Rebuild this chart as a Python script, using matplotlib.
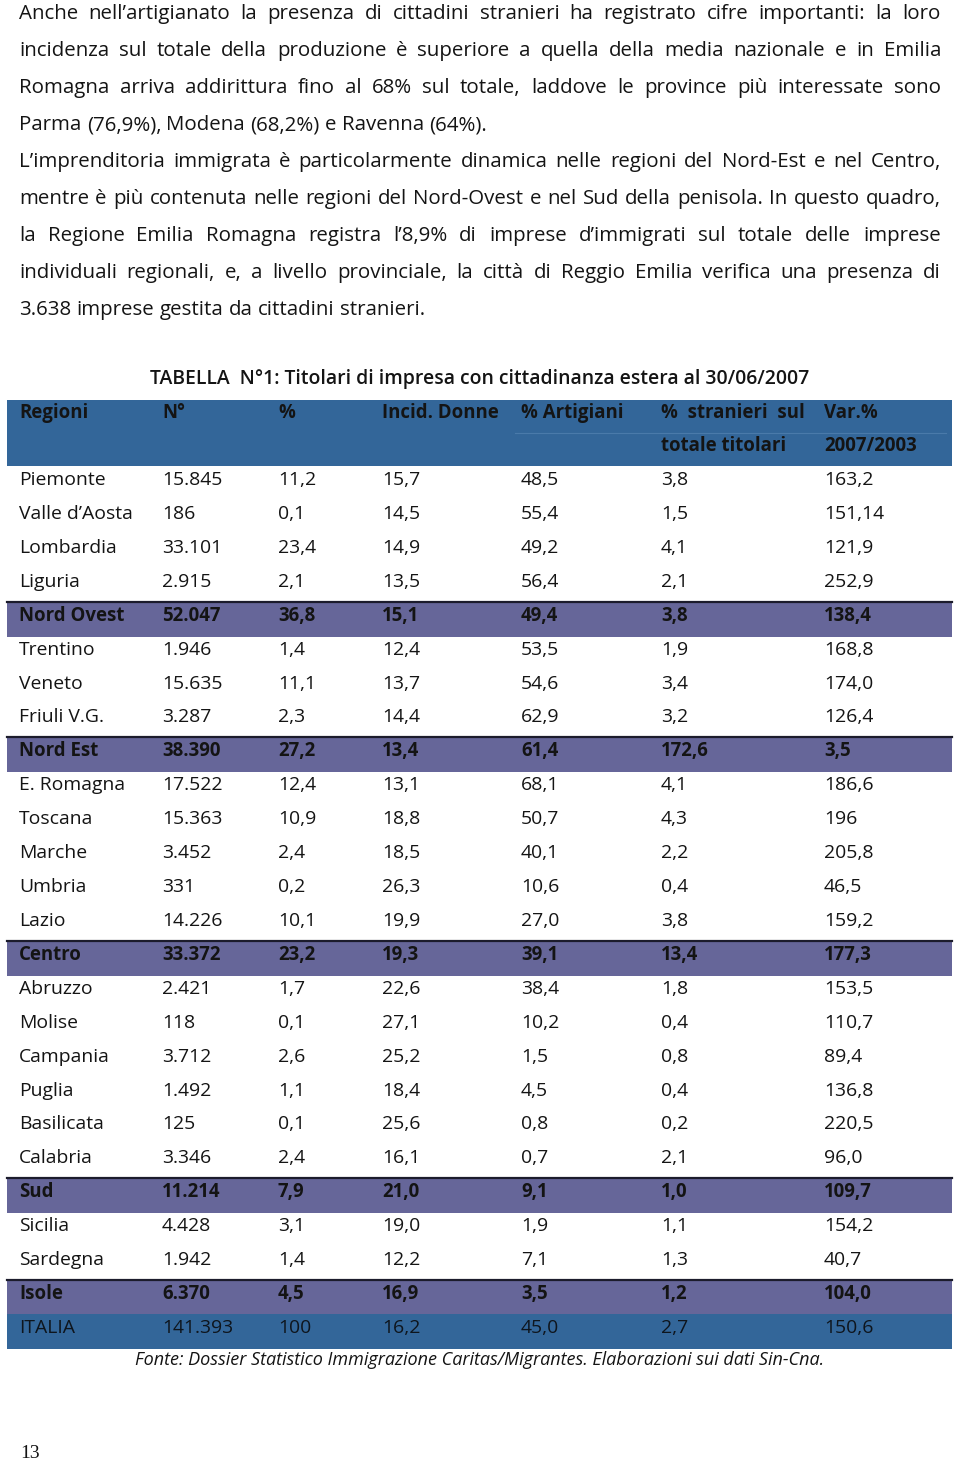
import matplotlib
matplotlib.use("Agg")
import matplotlib.pyplot as plt
from matplotlib.patches import Rectangle

# ---------------- data ----------------
paragraph_lines = [
    "Anche nell’artigianato la presenza di cittadini stranieri ha registrato cifre importanti: la loro",
    "incidenza sul totale della produzione è superiore a quella della media nazionale e in Emilia",
    "Romagna arriva addirittura fino al 68% sul totale, laddove le province più interessate sono",
    "Parma (76,9%), Modena (68,2%) e Ravenna (64%).",
    "L’imprenditoria immigrata è particolarmente dinamica nelle regioni del Nord-Est e nel Centro,",
    "mentre è più contenuta nelle regioni del Nord-Ovest e nel Sud della penisola. In questo quadro,",
    "la Regione Emilia Romagna registra l’8,9% di imprese d’immigrati sul totale delle imprese",
    "individuali regionali, e, a livello provinciale, la città di Reggio Emilia verifica una presenza di",
    "3.638 imprese gestita da cittadini stranieri.",
]
last_lines = [3, 8]

title = "TABELLA  N°1: Titolari di impresa con cittadinanza estera al 30/06/2007"
header_line1 = ["Regioni", "N°", "%", "Incid. Donne", "% Artigiani", "%  stranieri  sul", "Var.%"]
header_line2 = ["", "", "", "", "", "totale titolari", "2007/2003"]

regioni = ["Piemonte", "Valle d’Aosta", "Lombardia", "Liguria", "Nord Ovest",
           "Trentino", "Veneto", "Friuli V.G.", "Nord Est",
           "E. Romagna", "Toscana", "Marche", "Umbria", "Lazio", "Centro",
           "Abruzzo", "Molise", "Campania", "Puglia", "Basilicata", "Calabria", "Sud",
           "Sicilia", "Sardegna", "Isole", "ITALIA"]
numero = ["15.845", "186", "33.101", "2.915", "52.047",
          "1.946", "15.635", "3.287", "38.390",
          "17.522", "15.363", "3.452", "331", "14.226", "33.372",
          "2.421", "118", "3.712", "1.492", "125", "3.346", "11.214",
          "4.428", "1.942", "6.370", "141.393"]
percent = ["11,2", "0,1", "23,4", "2,1", "36,8",
           "1,4", "11,1", "2,3", "27,2",
           "12,4", "10,9", "2,4", "0,2", "10,1", "23,2",
           "1,7", "0,1", "2,6", "1,1", "0,1", "2,4", "7,9",
           "3,1", "1,4", "4,5", "100"]
incid_donne = ["15,7", "14,5", "14,9", "13,5", "15,1",
               "12,4", "13,7", "14,4", "13,4",
               "13,1", "18,8", "18,5", "26,3", "19,9", "19,3",
               "22,6", "27,1", "25,2", "18,4", "25,6", "16,1", "21,0",
               "19,0", "12,2", "16,9", "16,2"]
artigiani = ["48,5", "55,4", "49,2", "56,4", "49,4",
             "53,5", "54,6", "62,9", "61,4",
             "68,1", "50,7", "40,1", "10,6", "27,0", "39,1",
             "38,4", "10,2", "1,5", "4,5", "0,8", "0,7", "9,1",
             "1,9", "7,1", "3,5", "45,0"]
stranieri = ["3,8", "1,5", "4,1", "2,1", "3,8",
             "1,9", "3,4", "3,2", "172,6",
             "4,1", "4,3", "2,2", "0,4", "3,8", "13,4",
             "1,8", "0,4", "0,8", "0,4", "0,2", "2,1", "1,0",
             "1,1", "1,3", "1,2", "2,7"]
variazione = ["163,2", "151,14", "121,9", "252,9", "138,4",
              "168,8", "174,0", "126,4", "3,5",
              "186,6", "196", "205,8", "46,5", "159,2", "177,3",
              "153,5", "110,7", "89,4", "136,8", "220,5", "96,0", "109,7",
              "154,2", "40,7", "104,0", "150,6"]
summary_rows = ["Nord Ovest", "Nord Est", "Centro", "Sud", "Isole"]
total_row = "ITALIA"

fonte = "Fonte: Dossier Statistico Immigrazione Caritas/Migrantes. Elaborazioni sui dati Sin-Cna."
page_number = "13"

# ---------------- styles ----------------
BLUE = "#336699"
PURPLE = "#666699"
TXT = "#141414"
FONT = "Open Sans"

W, H = 960, 1461
fig = plt.figure(figsize=(W / 100, H / 100), dpi=100)
ax = fig.add_axes([0, 0, 1, 1])
ax.set_xlim(0, W)
ax.set_ylim(H, 0)
ax.axis("off")
renderer = fig.canvas.get_renderer()


def width_of(t):
    return t.get_window_extent(renderer).width


def size_for(text, target, **kw):
    p = ax.text(0, 0, text, fontsize=10, family=FONT, **kw)
    w = width_of(p)
    p.remove()
    return 10 * target / w


# ---------------- paragraph (justified) ----------------
x0, x1 = 19, 941
body_size = size_for(paragraph_lines[3], 468)
probe = [ax.text(0, 0, ln, fontsize=body_size, family=FONT) for ln in paragraph_lines]
maxw = max(width_of(p) for p in probe)
for p in probe:
    p.remove()
if maxw > (x1 - x0):
    body_size *= (x1 - x0) / maxw * 0.99

line_y0, line_step = 14, 37
for i, ln in enumerate(paragraph_lines):
    y = line_y0 + i * line_step
    words = ln.split(" ")
    objs = [ax.text(x0, y, w, fontsize=body_size, family=FONT, color=TXT, va="center") for w in words]
    ws = [width_of(o) for o in objs]
    if i in last_lines:
        sp = ax.text(0, 0, "a a", fontsize=body_size, family=FONT)
        sa = ax.text(0, 0, "aa", fontsize=body_size, family=FONT)
        gap = width_of(sp) - width_of(sa)
        sp.remove(); sa.remove()
    else:
        gap = (x1 - x0 - sum(ws)) / (len(words) - 1)
    x = x0
    for o, wd in zip(objs, ws):
        o.set_position((x, y))
        x += wd + gap

# ---------------- title ----------------
ax.text(480, 379, title, fontsize=size_for(title, 658, weight="semibold"), family=FONT,
        weight="semibold", color=TXT, ha="center", va="center")

# ---------------- table ----------------
tab_left, tab_right = 7, 952
col_x = [19, 162, 278, 382, 521, 661, 824]
head_top, head_bot = 400, 466
row_step = (1314 - 466) / 25
tsize = size_for("Valle d’Aosta", 114)
bsize = tsize * 0.96

ax.add_patch(Rectangle((tab_left, head_top), tab_right - tab_left, head_bot - head_top,
                       facecolor=BLUE, edgecolor="none", zorder=1))
ax.plot([515, tab_right - 6], [433, 433], color="#4a7aaa", lw=0.8, zorder=2)
for cx, h1, h2 in zip(col_x, header_line1, header_line2):
    ax.text(cx, 413, h1, fontsize=bsize, family=FONT, weight="bold", color=TXT, va="center", zorder=3)
    if h2:
        ax.text(cx, 446, h2, fontsize=bsize, family=FONT, weight="bold", color=TXT, va="center", zorder=3)

columns = [regioni, numero, percent, incid_donne, artigiani, stranieri, variazione]
for i, reg in enumerate(regioni):
    top = head_bot + i * row_step
    yc = top + 14
    weight = "normal"
    color = TXT
    size = tsize
    if reg in summary_rows:
        ax.add_patch(Rectangle((tab_left, top), tab_right - tab_left, row_step + 1,
                               facecolor=PURPLE, edgecolor="none", zorder=1))
        ax.plot([tab_left, tab_right], [top, top], color="#1c1c2c", lw=1.6, zorder=2)
        weight = "bold"
        size = bsize
    elif reg == total_row:
        ax.add_patch(Rectangle((tab_left, top), tab_right - tab_left, row_step + 1,
                               facecolor=BLUE, edgecolor="none", zorder=1))
        color = "#0e151d"
    for cx, col in zip(col_x, columns):
        ax.text(cx, yc, col[i], fontsize=size, family=FONT, weight=weight, color=color,
                va="center", zorder=3)

# ---------------- source ----------------
ax.text(480, 1360, fonte, fontsize=size_for(fonte, 693, style="italic"), family=FONT,
        style="italic", color=TXT, ha="center", va="center")

ax.text(20, 1453, page_number, fontsize=14, family="Liberation Serif", color=TXT, va="center")

fig.savefig("out.png", dpi=100)
